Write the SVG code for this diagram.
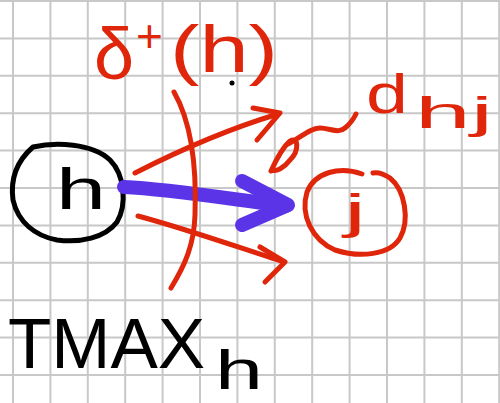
<svg xmlns="http://www.w3.org/2000/svg" width="500" height="403" viewBox="0 0 500 403">
<style>
.grid{stroke:#c8c8c8;stroke-width:2;fill:none}
.ink{fill:none;stroke-linecap:round;stroke-linejoin:round}
.blk{stroke:#000;stroke-width:5}
.red{stroke:#e0260a;stroke-width:5}
.pur{stroke:#5b34e8;stroke-width:14}
.t{font-family:"Liberation Sans","DejaVu Sans",sans-serif}
.tr{fill:#e0260a}
.tb{fill:#000}
</style>
<rect width="500" height="403" fill="#fff"/>
<path class="grid" d="M13,0V403M50.4,0V403M87.8,0V403M125.2,0V403M162.6,0V403M200,0V403M237.4,0V403M274.8,0V403M312.2,0V403M349.6,0V403M387,0V403M424.4,0V403M461.8,0V403M499.2,0V403M0,1H500M0,38.4H500M0,75.8H500M0,113.2H500M0,150.6H500M0,188H500M0,225.4H500M0,262.8H500M0,300.2H500M0,337.6H500M0,375H500"/>

<g id="cut-label">
<text class="t tr" x="94" y="79" font-size="72">δ</text>
<text class="t tr" x="136" y="52" font-size="46">+</text>
<text class="t tr" x="170" y="72" font-size="66" textLength="108" lengthAdjust="spacingAndGlyphs">(h)</text>
<circle cx="232" cy="83" r="2.5" fill="#000"/>
</g>

<g id="node-h">
<path class="ink blk" d="M33,147 C55,142 92,143 110,160 C125,175 127,205 117,222 C105,238 80,243 57,240 C35,236 18,222 13,200 C10,178 18,160 33,147 Z"/>
<text class="t tb" x="56" y="209" font-size="58" textLength="50" lengthAdjust="spacingAndGlyphs">h</text>
</g>

<g id="node-j">
<path class="ink red" d="M362,174 C340,166 315,172 307,192 C300,215 312,240 335,250 C360,258 390,255 400,238 C410,220 405,190 390,178 C384,174 378,172 373,173"/>
<text class="t tr" x="344" y="228" font-size="48" textLength="22" lengthAdjust="spacingAndGlyphs">j</text>
</g>

<g id="connectors">
<path class="ink red" d="M135,173 C180,150 225,130 278,114"/>
<path class="ink red" d="M253,108 L280,113 L257,140"/>
<path class="ink red" d="M138,216 C190,230 240,248 284,262"/>
<path class="ink red" d="M260,247 L285,262 L265,282"/>
<path class="ink pur" d="M124,187 C170,189 230,199 286,206"/>
<path class="ink pur" d="M242,181 L288,205 L242,225" fill="#5b34e8"/>
<path class="ink red" d="M174,92 C190,120 197,160 195,215 C194,245 185,265 171,288"/>
<path class="ink red" d="M271,171 C276,160 282,148 290,141 C298,136 300,150 290,160 C284,168 276,172 272,170 M288,144 C300,138 310,128 320,128 C330,128 338,134 345,128 C350,124 354,118 356,114"/>
</g>

<g id="edge-label">
<text class="t tr" x="366" y="113" font-size="56" textLength="42" lengthAdjust="spacingAndGlyphs">d</text>
<text class="t tr" x="415" y="128" font-size="44" textLength="78" lengthAdjust="spacingAndGlyphs">hj</text>
</g>

<g id="tmax-label">
<text class="t tb" x="8" y="368" font-size="71">TMAX</text>
<text class="t tb" x="215" y="389" font-size="56" textLength="48" lengthAdjust="spacingAndGlyphs">h</text>
</g>
</svg>
